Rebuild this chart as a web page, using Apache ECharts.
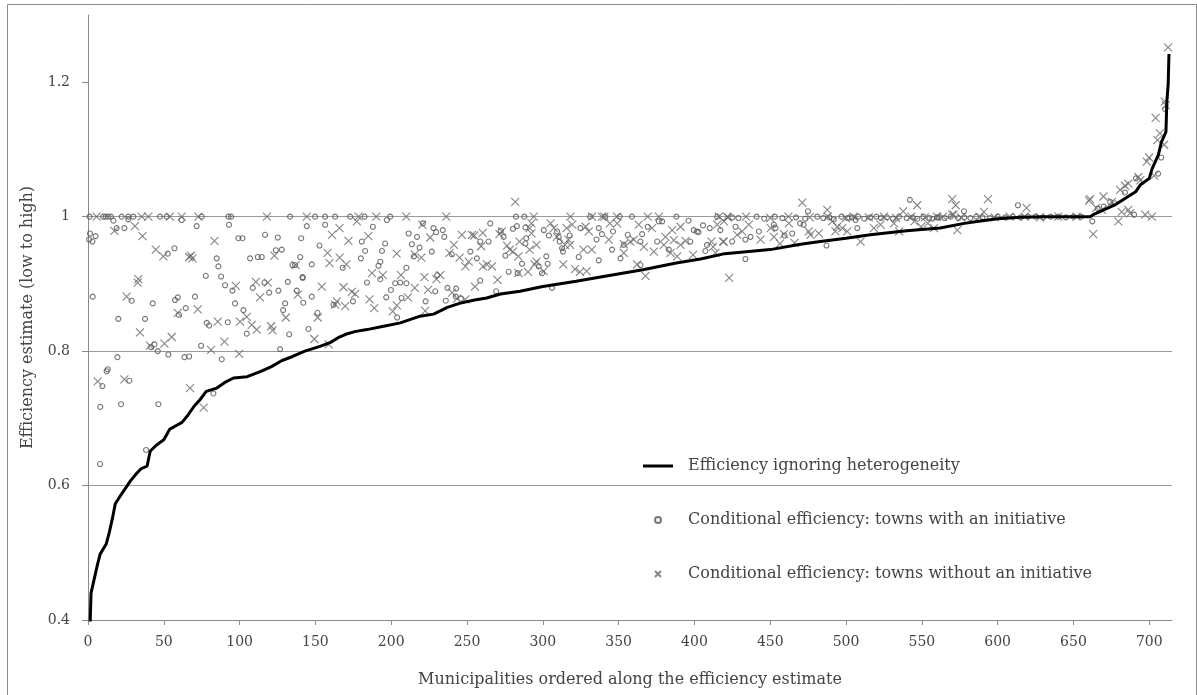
<!DOCTYPE html>
<html>
<head>
<meta charset="utf-8">
<script src="https://cdn.jsdelivr.net/npm/echarts@6/dist/echarts.min.js"></script>
<style>
html,body{margin:0;padding:0;background:#fff;}
#chart{width:1197px;height:695px;}
</style>
</head>
<body>
<div id="chart"></div>
<script>
const seriesNames = [
  'Efficiency ignoring heterogeneity',
  'Conditional efficiency: towns with an initiative',
  'Conditional efficiency: towns without an initiative'
];
const xTicks = [0,50,100,150,200,250,300,350,400,450,500,550,600,650,700];
const yTicks = [0.4,0.6,0.8,1.0,1.2];

// Efficiency ignoring heterogeneity (sorted), [rank, estimate]
const ignoringHet = [
[1,0.36],[2,0.44],[4,0.46],[6,0.48],[8,0.498],[12,0.513],[14,0.53],[16,0.55],[18,0.573],[22,0.587],[25,0.597],[28,0.607],[32,0.618],[35,0.625],[39,0.629],[41,0.651],[45,0.66],[50,0.668],[54,0.684],[58,0.689],[62,0.694],[66,0.705],[70,0.718],[74,0.728],[78,0.740],[85,0.745],[90,0.753],[96,0.760],[105,0.762],[114,0.770],[121,0.777],[128,0.786],[135,0.792],[143,0.800],[153,0.807],[160,0.813],[165,0.820],[170,0.825],[176,0.829],[184,0.832],[195,0.837],[206,0.842],[219,0.852],[228,0.855],[237,0.865],[245,0.871],[255,0.876],[263,0.879],[272,0.885],[285,0.889],[300,0.896],[322,0.904],[340,0.911],[366,0.921],[388,0.931],[404,0.937],[420,0.945],[450,0.951],[470,0.959],[483,0.963],[500,0.968],[516,0.973],[540,0.979],[562,0.983],[578,0.99],[590,0.994],[600,0.997],[615,0.999],[630,1.0],[650,1.0],[661,1.0],[663,1.003],[670,1.01],[677,1.017],[684,1.027],[691,1.037],[694,1.047],[700,1.057],[702,1.072],[706,1.092],[708,1.111],[711,1.126],[711.6,1.171],[712.5,1.198],[713,1.242]
];

// Conditional efficiency: towns with an initiative (circles)
const withInitiative = [
[1,1],[10,1],[11.6,1],[13.4,1],[15.2,1],[22.2,1],[26.6,1],[29.9,1],[47.5,1],[51.9,1],[75,1],[92.6,1],[94.4,1],[133.3,1],[149.8,1],[156.4,1],[163,1],[172.9,1],[182.4,1],[199.3,1],[282.3,1],[287.8,1],[331.3,1],[341.2,1],[350.7,1],[358.8,1],[388.1,1],[415,1],
[16.7,0.994],[26.6,0.996],[61.8,0.995],[1.3,0.975],[0.7,0.966],[2.9,0.963],[5,0.971],[18.9,0.983],[24,0.983],[71.7,0.986],[93,0.988],[99.2,0.968],[101.9,0.968],[116.8,0.973],[125.2,0.969],[140.6,0.968],[57,0.953],[52.6,0.945],[84.9,0.938],[106.9,0.938],[112,0.94],[114.6,0.94],[123.9,0.95],[127.8,0.951],[140,0.94],[86,0.926],[134.9,0.928],[136.6,0.928],[77.7,0.912],[87.8,0.911],[90.4,0.898],[95.3,0.89],[108.7,0.894],[116.4,0.902],[119.5,0.887],[125.6,0.89],[131.8,0.903],[137.7,0.89],[141.5,0.91],[3.1,0.881],[28.8,0.875],[42.7,0.871],[57.4,0.876],[59.2,0.88],[64.5,0.864],[70.6,0.881],[60,0.854],[97,0.871],[102.5,0.861],[130,0.871],[128.7,0.861],[142,0.872],[20,0.848],[37.6,0.848],[78.3,0.842],[79.9,0.838],[92.2,0.843],[104.7,0.826],[132.7,0.825],[43.8,0.81],[41.6,0.806],[46,0.8],[53,0.795],[74.6,0.808],[88.2,0.788],[63.6,0.791],[66.7,0.792],[126.7,0.803],[19.4,0.791],[13,0.773],[12.3,0.77],[9.5,0.748],[27.3,0.756],[82.7,0.737],[8.1,0.717],[21.8,0.721],[46.4,0.721],[8,0.632],[38.3,0.653],
[144.3,0.986],[156.4,0.988],[187.9,0.985],[197.1,0.995],[220.9,0.99],[227.9,0.983],[234,0.98],[229.6,0.977],[235,0.97],[211.5,0.975],[217,0.97],[265.3,0.99],[258.7,0.963],[264.2,0.963],[272.2,0.979],[274.1,0.97],[280.3,0.982],[282.9,0.986],[152.7,0.957],[196,0.96],[180.6,0.963],[213.6,0.959],[218.7,0.954],[226.8,0.948],[252.2,0.948],[182.8,0.949],[193.9,0.949],[180,0.938],[215,0.941],[240,0.944],[256.5,0.938],[275.3,0.942],[147.6,0.929],[168,0.924],[192.8,0.933],[191.6,0.927],[210,0.924],[277.5,0.918],[283.4,0.916],[141.7,0.909],[192.8,0.907],[210,0.901],[202.6,0.901],[205.9,0.902],[184,0.902],[230.3,0.913],[258.7,0.905],[199.8,0.891],[229,0.889],[237.1,0.894],[242.8,0.893],[269.2,0.889],[147.6,0.881],[174.8,0.874],[196.7,0.88],[206.8,0.879],[222.7,0.874],[236,0.875],[242.6,0.881],[246,0.878],[161.9,0.869],[203.9,0.85],[151.4,0.857],[145.4,0.833],
[288.5,0.984],[300.6,0.98],[309.4,0.978],[310.5,0.97],[304,0.972],[317.7,0.972],[324.8,0.983],[336.9,0.983],[346.3,0.978],[339,0.974],[356,0.973],[365.5,0.974],[369.2,0.985],[376.5,0.993],[378.7,0.993],[396.1,0.994],[399.5,0.98],[401.6,0.978],[402.7,0.977],[405.7,0.987],[410.1,0.983],[417.1,0.98],[288.5,0.96],[289.1,0.968],[311.1,0.963],[312.7,0.953],[313.3,0.948],[335.4,0.966],[353.4,0.958],[364.4,0.963],[375.4,0.963],[383.1,0.951],[397.3,0.963],[408.3,0.958],[407.2,0.949],[323.7,0.94],[345.7,0.951],[351.2,0.938],[302.3,0.941],[303.2,0.93],[286.3,0.93],[336.9,0.935],[364.4,0.928],[297.3,0.926],[299.5,0.916],[306,0.894],
[474.9,1.008],[542.1,1.025],[427.1,0.985],[433.6,0.966],[424.9,0.963],[437,0.97],[442.5,0.978],[452.4,0.988],[453.5,0.983],[464.5,0.975],[469.7,0.99],[472,0.988],[459.4,0.972],[487.1,0.957],[507.4,0.983],[506.3,0.995],[433.6,0.937],
[425,0.999],[429,0.998],[441,1.0],[446,0.997],[453,1.0],[458,0.998],[467,0.999],[473,0.997],[481,1.0],[485,0.998],[489,0.999],[492,0.996],[497,1.0],[501,0.998],[504,0.999],[508,1.0],[512,0.997],[516,0.999],[520,1.0],[523,0.998],[527,0.999],[531,0.997],[535,1.0],[540,0.998],[544,0.999],[547,0.997],[551,1.0],[555,0.998],[560,0.999],
[613.4,1.017],[577.8,1.008],[557,0.997],[561,0.999],[565,0.998],[569,1.0],[574,0.998],[578,0.999],[582,0.998],[586,1.0],[590,0.999],[595,0.998],[600,1.0],[605,0.999],[610,1.0],[615,0.999],[620,1.0],[625,1.0],[630,0.999],[635,1.0],[640,1.0],[645,0.999],[650,1.0],[655,1.0],
[707.9,1.088],[705.8,1.064],[691.2,1.057],[684,1.036],[674.2,1.022],[690,1.003],[662.4,0.993],[710.5,1.16],[666,1.012],[670,1.015],[677,1.02]
];

// Conditional efficiency: towns without an initiative (crosses)
const withoutInitiative = [
[5.7,1],[35.4,1],[39.8,1],[54,1],[61.8,1],[72.8,1],[118,1],[144.3,1],[178.4,1],[190.1,1],[209.9,1],[236.3,1],[294,1],[318.2,1],[332.4,1],[339,1],[340.6,1],[348.9,1],[369.2,1],[376.5,1],[416.1,1],[421.6,1],
[281.8,1.022],[471.1,1.021],[546.9,1.017],[487.6,1.01],[537.7,1.008],[570,1.026],[572.3,1.017],[593.6,1.026],[619.1,1.013],[660.3,1.024],[591,1.007],[570,1.003],[571,1.003],
[31,0.986],[17.4,0.979],[35.9,0.971],[83.4,0.964],[44.7,0.951],[49.7,0.941],[66.7,0.94],[68.9,0.938],[68,0.942],[123,0.942],[137,0.928],[33.2,0.907],[32.8,0.902],[97.5,0.897],[110.7,0.903],[118.6,0.902],[113.5,0.88],[138.4,0.884],[25.5,0.881],[59.2,0.857],[72.4,0.862],[85.6,0.844],[100.3,0.844],[104.7,0.851],[108,0.839],[111.3,0.832],[120.8,0.837],[121.7,0.831],[130.5,0.85],[34.3,0.828],[40.9,0.808],[50.4,0.811],[55.2,0.821],[81.2,0.802],[90,0.814],[99.7,0.796],[6.4,0.755],[24,0.758],[67.3,0.745],[76.3,0.716],
[165.9,0.983],[160.9,0.973],[171.8,0.964],[184.9,0.971],[177.3,0.993],[220.5,0.988],[225.7,0.969],[246.6,0.973],[253.2,0.973],[254.7,0.972],[260.4,0.976],[271.4,0.974],[273,0.978],[241.3,0.958],[259.3,0.956],[276.4,0.957],[278.2,0.951],[158,0.946],[159.3,0.931],[166,0.939],[170.4,0.929],[203.6,0.945],[215.5,0.944],[219.9,0.939],[238.5,0.946],[245.1,0.939],[251.1,0.933],[248.9,0.926],[260.5,0.926],[263.1,0.929],[266.4,0.926],[283.9,0.941],[187.3,0.916],[194.5,0.913],[206.4,0.913],[221.9,0.91],[229.8,0.907],[232.4,0.913],[270.1,0.906],[154.2,0.896],[168.5,0.895],[174,0.888],[176.2,0.885],[215.5,0.894],[224.3,0.891],[255.2,0.896],[164.1,0.874],[163,0.869],[169.6,0.867],[185.7,0.877],[188.8,0.864],[203.7,0.868],[201,0.859],[211,0.88],[240.2,0.887],[243.4,0.878],[248.9,0.877],[222.4,0.86],[151.5,0.85],[149.3,0.818],[158.7,0.81],
[292.5,0.99],[291.3,0.983],[305.1,0.99],[307.3,0.983],[315.7,0.983],[319.4,0.988],[328.2,0.985],[330.3,0.978],[344.2,0.99],[349,0.99],[363.3,0.988],[372,0.983],[385.3,0.98],[390.8,0.985],[415,0.988],[419.4,0.993],[284.6,0.963],[292.5,0.975],[309.3,0.97],[316.9,0.966],[318,0.958],[326.8,0.951],[332.3,0.951],[343.5,0.966],[353.4,0.959],[357.7,0.963],[360,0.966],[366.6,0.955],[373.2,0.948],[380.9,0.97],[379.8,0.958],[386.4,0.965],[390.8,0.958],[394.1,0.964],[411.2,0.963],[412.3,0.955],[418.8,0.963],[280.3,0.948],[291.3,0.951],[295.8,0.958],[314.6,0.958],[353.4,0.946],[384.2,0.946],[388.6,0.941],[399.1,0.943],[413.9,0.946],[295.8,0.933],[294.6,0.929],[313.5,0.929],[321.2,0.922],[324.5,0.918],[328.9,0.919],[362.2,0.929],[290.2,0.918],[283.9,0.916],[300.6,0.919],[367.7,0.912],[422.9,0.909],
[419.4,0.963],[428.2,0.973],[431.5,0.978],[435.9,0.988],[443.6,0.966],[450.3,0.983],[452.4,0.97],[456.4,0.96],[459,0.974],[462.3,0.99],[466,0.961],[475.4,0.978],[476.5,0.973],[482,0.975],[490.9,0.993],[493,0.978],[494.2,0.985],[497.5,0.983],[500.8,0.978],[509.6,0.963],[518.4,0.983],[522.8,0.988],[531.6,0.99],[535,0.978],[545.1,0.993],[549.5,0.985],[553.9,0.99],
[422,0.999],[434,1.0],[450,0.998],[462,1.0],[476,0.999],[488,1.0],[500,0.998],[505,1.0],[515,0.999],[525,1.0],[533,0.998],[543,1.0],[552,0.999],[560,1.0],
[558,0.983],[573.4,0.98],[564,1.0],[576,0.999],[588,1.0],[598,0.999],[608,1.0],[618,1.0],[628,0.999],[640,1.0],[652,1.0],
[712.4,1.252],[710.2,1.171],[710.9,1.166],[704.2,1.147],[707,1.124],[705.4,1.114],[709.8,1.107],[699.9,1.088],[698.4,1.082],[703.2,1.061],[692.8,1.059],[694.1,1.054],[686.2,1.049],[684,1.046],[680.8,1.04],[669.8,1.03],[675.3,1.022],[660.9,1.026],[665.1,1.013],[668.8,1.01],[679.6,0.993],[681.8,1.007],[686.2,1.01],[687.3,1.005],[697.3,1.003],[701.7,1.0],[663,0.974]
];

const FONT = 'DejaVu Serif';
const TXT = '#444';
const chart = echarts.init(document.getElementById('chart'), null, {renderer: 'canvas'});
chart.setOption({
  animation: false,
  backgroundColor: '#fff',
  textStyle: {fontFamily: FONT},
  graphic: [{
    type: 'rect', left: 5, top: 2,
    shape: {width: 1189, height: 691},
    style: {fill: 'none', stroke: '#8a8a8a', lineWidth: 1},
    silent: true, z: -1
  }],
  grid: {left: 88, right: 25, top: 15, bottom: 75, containLabel: false},
  legend: {
    orient: 'vertical', left: 643, top: 456, padding: 0,
    itemWidth: 30, itemHeight: 6, itemGap: 34,
    data: [
      {name: seriesNames[0], icon: 'path://M0,0L30,0L30,3L0,3Z', itemStyle: {color: '#000', borderWidth: 0}},
      {name: seriesNames[1]},
      {name: seriesNames[2]}
    ],
    textStyle: {fontFamily: FONT, fontSize: 16, color: TXT, lineHeight: 20, padding: [0,0,0,10]},
    selectedMode: false
  },
  xAxis: {
    type: 'value', min: 0, max: 715, interval: 50,
    name: 'Municipalities ordered along the efficiency estimate',
    nameLocation: 'middle', nameGap: 52,
    nameTextStyle: {fontFamily: FONT, fontSize: 16, color: TXT},
    axisLine: {show: true, lineStyle: {color: '#8a8a8a', width: 1}},
    axisTick: {show: true, length: 5, lineStyle: {color: '#8a8a8a'}, customValues: xTicks},
    axisLabel: {fontFamily: FONT, fontSize: 14, color: TXT, margin: 15, customValues: xTicks},
    splitLine: {show: false}
  },
  yAxis: {
    type: 'value', min: 0.4, max: 1.3, interval: 0.2,
    name: 'Efficiency estimate (low to high)',
    nameLocation: 'middle', nameGap: 52, nameRotate: 90,
    nameTextStyle: {fontFamily: FONT, fontSize: 16, color: TXT},
    axisLine: {show: true, lineStyle: {color: '#8a8a8a', width: 1}},
    axisTick: {show: true, length: 6, lineStyle: {color: '#8a8a8a'}, customValues: yTicks},
    axisLabel: {fontFamily: FONT, fontSize: 14, color: TXT, margin: 18, customValues: yTicks,
      formatter: v => (Math.abs(v - 1) < 1e-9 ? '1' : String(+v.toFixed(1)))},
    splitLine: {show: true, showMinLine: false, showMaxLine: false, lineStyle: {color: '#9a9a9a', width: 1}}
  },
  series: [
    {
      name: seriesNames[1], type: 'scatter', data: withInitiative,
      symbol: 'circle', symbolSize: 5,
      itemStyle: {color: 'rgba(255,255,255,0)', borderColor: '#555', borderWidth: 1.1},
      z: 2
    },
    {
      name: seriesNames[2], type: 'scatter', data: withoutInitiative,
      symbol: 'path://M0,0L10,10M10,0L0,10', symbolSize: 8,
      itemStyle: {color: 'rgba(255,255,255,0)', borderColor: '#666', borderWidth: 1.1},
      z: 2
    },
    {
      name: seriesNames[0], type: 'line', data: ignoringHet,
      symbol: 'none', showSymbol: false,
      lineStyle: {color: '#000', width: 3},
      itemStyle: {color: '#000'},
      clip: true, z: 3
    }
  ]
});
</script>
</body>
</html>
